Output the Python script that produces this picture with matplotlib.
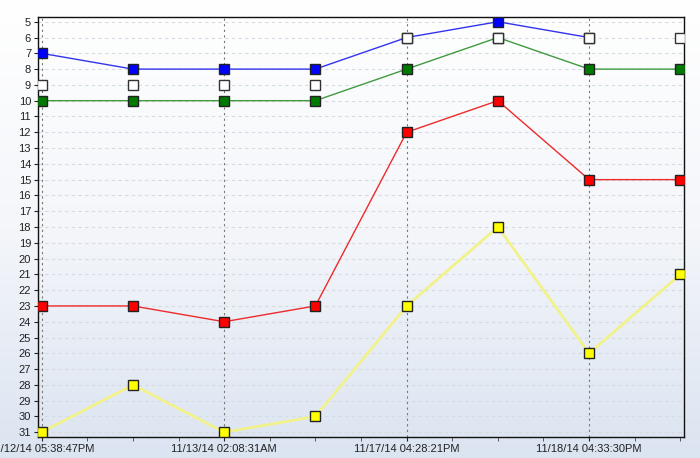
import numpy as np
import matplotlib
matplotlib.use("Agg")
import matplotlib.pyplot as plt
from matplotlib.colors import LinearSegmentedColormap

plt.rcParams["font.family"] = ["Liberation Sans", "DejaVu Sans"]

# data (y axis is a rank, inverted)
x_pos = [0, 1, 2, 3, 4, 5, 6, 7]
x_labels = ["11/12/14 05:38:47PM", "11/13/14 02:08:31AM",
            "11/17/14 04:28:21PM", "11/18/14 04:33:30PM"]
blue_vals = [7, 8, 8, 8, 6, 5, 6, np.nan]
white_vals = [9, 9, 9, 9, 6, 6, 6, 6]
green_vals = [10, 10, 10, 10, 8, 6, 8, 8]
red_vals = [23, 23, 24, 23, 12, 10, 15, 15]
yellow_vals = [31, 28, 31, 30, 23, 18, 26, 21]

fig = plt.figure(figsize=(7.0, 4.58), dpi=100)

# gradient background over the whole figure
bg = fig.add_axes([0, 0, 1, 1], zorder=-10)
grad = np.linspace(0, 1, 256).reshape(-1, 1)
cmap = LinearSegmentedColormap.from_list("bg", ["#ffffff", "#f4f6fa", "#dbe4f1"])
bg.imshow(grad, aspect="auto", cmap=cmap, extent=[0, 1, 0, 1])
bg.axis("off")

ax = fig.add_axes([38 / 700, 21 / 458, 646 / 700, 420 / 458])
ax.patch.set_alpha(0)

# series: (values, line colour, marker colour, line width)
series = [
    (yellow_vals, "#f2f28a", "#ffff00", 2.0),
    (red_vals, "#ee2a2a", "#ff0000", 1.0),
    (green_vals, "#3f9a3f", "#007a00", 1.0),
    (blue_vals, "#3333ee", "#0000ff", 1.0),
]
for vals, lc, mc, lw in series:
    ax.plot(x_pos, vals, color=lc, lw=lw, zorder=3)
    ax.plot(x_pos, vals, ls="none", marker="s", ms=6.5, mfc=mc,
            mec="#222222", mew=1.0, zorder=4)

# white series is markers only
ax.plot(x_pos, white_vals, ls="none", marker="s", ms=6.5, mfc="white",
        mec="#333333", mew=1.0, zorder=5)

ax.set_xlim(-0.04, 7.04)
ax.set_ylim(31.3, 4.7)

ax.set_yticks(range(5, 32))
ax.set_xticks([0, 2, 4, 6])
ax.set_xticklabels(x_labels)
ax.set_xticks(np.arange(0, 7.01, 0.5), minor=True)
ax.tick_params(axis="both", labelsize=8, colors="#222222", length=3, pad=2)
ax.tick_params(axis="x", which="minor", length=3, color="#444444")

# grid lines
for y in range(5, 32):
    ax.axhline(y, color="#d6dae2", lw=0.8, ls=(0, (3, 3)), zorder=1)
for x in [0, 2, 4, 6]:
    ax.axvline(x, color="#777777", lw=0.8, ls=(0, (2, 3)), zorder=2)

for s in ax.spines.values():
    s.set_color("#111111")
    s.set_linewidth(1.0)

plt.savefig("out.png", dpi=100)
